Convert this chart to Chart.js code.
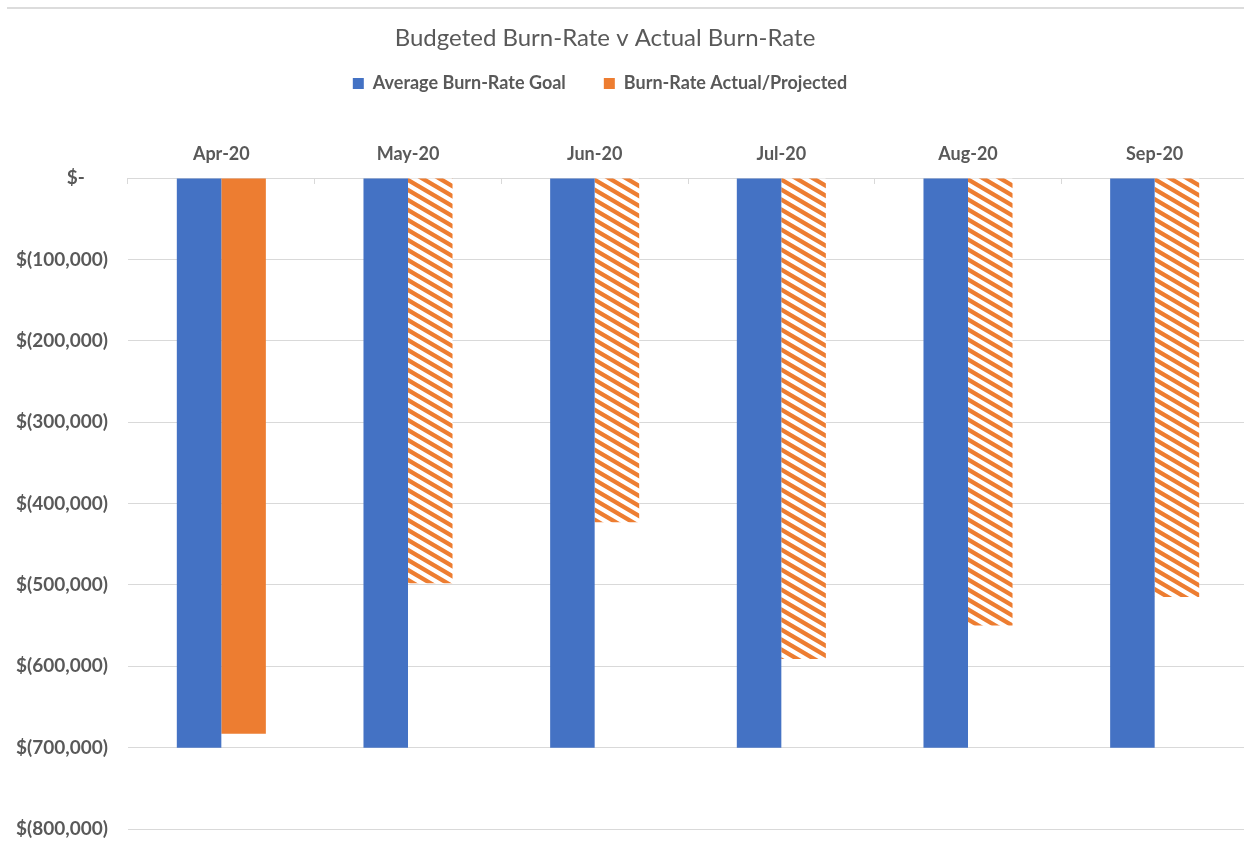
<!DOCTYPE html>
<html>
<head>
<meta charset="utf-8">
<script src="https://cdn.jsdelivr.net/npm/chart.js@4.4.1/dist/chart.umd.min.js"></script>
<style>
  html, body { margin: 0; padding: 0; background: #ffffff; overflow: hidden; }
  #wrap { position: relative; width: 1252px; height: 846px; }
  #frame { position: absolute; left: 7px; top: 7px; width: 1245px; height: 0; border-top: 2px solid #DCDCDC; }
  canvas { display: block; }
</style>
</head>
<body>
<div id="wrap">
  <canvas id="burn" width="1252" height="846"></canvas>
  <div id="frame"></div>
</div>
<script>
// Monthly categories
const months = ['Apr-20', 'May-20', 'Jun-20', 'Jul-20', 'Aug-20', 'Sep-20'];
// Budgeted (goal) burn-rate per month
const goalBurn = [-700000, -700000, -700000, -700000, -700000, -700000];
// Actual burn-rate for April, projections afterwards
const actualBurn = [-683000, -498000, -423000, -591000, -550000, -515000];
const isProjected = [false, true, true, true, true, true];
// Value axis range
const yMin = -800000;
const yMax = 0;
const yStep = 100000;

const BLUE = '#4472C4';
const ORANGE = '#ED7D31';
const TEXT = '#595959';
const GRID = '#D9D9D9';

// Diagonal stripe fill used for projected months
function stripePattern(color) {
  const w = 17, h = 10;
  const c = document.createElement('canvas');
  c.width = w; c.height = h;
  const g = c.getContext('2d');
  g.fillStyle = '#ffffff';
  g.fillRect(0, 0, w, h);
  g.strokeStyle = color;
  g.lineWidth = 4.3;
  for (let k = -2; k <= 2; k++) {
    g.beginPath();
    g.moveTo(-w, -h + k * h);
    g.lineTo(2 * w, 2 * h + k * h);
    g.stroke();
  }
  return g.createPattern(c, 'repeat');
}
const hatch = stripePattern(ORANGE);

function money(v) {
  if (v === 0) return '$-     ';
  const s = Math.abs(v).toLocaleString('en-US');
  return v < 0 ? '$(' + s + ')' : '$' + s;
}

// Moves the title and legend slightly left of the canvas centre
const headerOffset = {
  id: 'headerOffset',
  afterLayout(chart) {
    const moves = [[chart.titleBlock, -19], [chart.legend, -24]];
    for (const [box, dx] of moves) {
      if (!box) continue;
      box.left += dx;
      box.right += dx;
    }
  }
};

new Chart(document.getElementById('burn'), {
  type: 'bar',
  data: {
    labels: months,
    datasets: [
      {
        label: 'Average Burn-Rate Goal',
        data: goalBurn,
        backgroundColor: BLUE,
        borderWidth: 0
      },
      {
        label: 'Burn-Rate Actual/Projected',
        data: actualBurn,
        backgroundColor: (ctx) => (ctx.type === 'data' && isProjected[ctx.dataIndex]) ? hatch : ORANGE,
        borderWidth: 0
      }
    ]
  },
  options: {
    responsive: false,
    animation: false,
    devicePixelRatio: 1,
    barPercentage: 1.0,
    categoryPercentage: 0.477,
    layout: { padding: { top: 0, bottom: 17, left: 0, right: 4 } },
    plugins: {
      title: {
        display: true,
        text: 'Budgeted Burn-Rate v Actual Burn-Rate',
        color: TEXT,
        font: { family: 'Lato', size: 24, weight: 'normal', lineHeight: 1.2 },
        padding: { top: 23.6, bottom: -15.9 }
      },
      legend: {
        display: true,
        position: 'top',
        labels: {
          color: TEXT,
          font: { family: 'Lato', size: 18, weight: 'bold' },
          boxWidth: 11,
          boxHeight: 11,
          padding: 38
        }
      },
      tooltip: { enabled: false }
    },
    scales: {
      x: {
        position: 'top',
        offset: true,
        grid: {
          display: true,
          offset: true,
          drawOnChartArea: false,
          drawTicks: true,
          tickLength: -6,
          color: GRID,
          tickColor: GRID
        },
        border: { display: true, color: GRID, width: 1 },
        ticks: {
          color: TEXT,
          padding: 19.2,
          font: { family: 'Lato', size: 18, weight: 'bold', lineHeight: 1.2 }
        },
        afterFit(scale) { scale.height = 75.5; }
      },
      y: {
        min: yMin,
        max: yMax,
        grid: { color: GRID, lineWidth: 1, drawTicks: true, tickLength: 20, tickColor: 'rgba(0,0,0,0)' },
        border: { display: false },
        ticks: {
          stepSize: yStep,
          color: TEXT,
          padding: 0,
          font: { family: 'Lato', size: 19, weight: 'bold' },
          callback: (v) => money(v)
        },
        afterFit(scale) { scale.width = 128; }
      }
    }
  },
  plugins: [headerOffset]
});
</script>
</body>
</html>
